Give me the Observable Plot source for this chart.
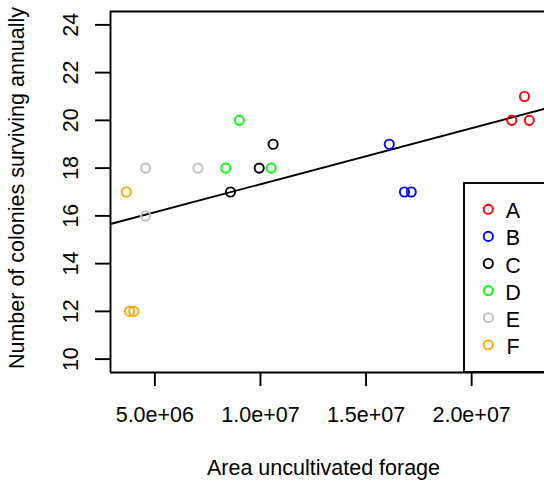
<!DOCTYPE html>
<html>
<head>
<meta charset="utf-8">
<script src="https://cdn.jsdelivr.net/npm/d3@7"></script>
<script src="https://cdn.jsdelivr.net/npm/@observablehq/plot@0.6"></script>
<style>
  html, body { margin: 0; padding: 0; background: #fff; overflow: hidden; }
  #chart svg { font-family: "Liberation Sans", Arial, Helvetica, sans-serif; }
</style>
</head>
<body>
<div id="chart"></div>
<script>
// ---- data ----
const categories = ["A", "B", "C", "D", "E", "F"];
const categoryColors = ["#FF0000", "#0000FF", "#000000", "#00FF00", "#BEBEBE", "#FFA500"];

const group = ["A", "A", "A", "B", "B", "B", "C", "C", "C", "D", "D", "D", "E", "E", "E", "F", "F", "F"];
const area = [22.5e6, 21.9e6, 22.73e6, 16.1e6, 16.82e6, 17.14e6, 8.58e6, 9.94e6, 10.6e6,
              9.0e6, 8.36e6, 10.51e6, 4.56e6, 7.04e6, 4.56e6, 3.65e6, 3.8e6, 4.0e6];
const colonies = [21, 20, 20, 19, 17, 17, 17, 18, 19, 20, 18, 18, 18, 18, 16, 17, 12, 12];

const xTicks = [5e6, 1e7, 1.5e7, 2e7];
const xTickLabels = ["5.0e+06", "1.0e+07", "1.5e+07", "2.0e+07"];
const yTicks = [10, 12, 14, 16, 18, 20, 22, 24];

const xLabel = "Area uncultivated forage";
const yLabel = "Number of colonies surviving annually";

// ---- derived ----
const data = group.map((g, i) => ({group: g, area: area[i], colonies: colonies[i]}));
const mx = d3.mean(area), my = d3.mean(colonies);
const slope = d3.sum(area, (x, i) => (x - mx) * (colonies[i] - my)) / d3.sum(area, x => (x - mx) ** 2);
const intercept = my - slope * mx;

const xDomain = [2.9e6, 23.45e6];
const yDomain = [9.44, 24.56];
const fit = xDomain.map(x => ({area: x, colonies: intercept + slope * x}));

const W = 544, H = 487;
const mL = 110, mR = 0, mT = 11, mB = 115;
const FS = 21.5;
const LW = 1.9;

const chart = Plot.plot({
  width: W, height: H,
  marginLeft: mL, marginRight: mR, marginTop: mT, marginBottom: mB,
  style: {fontFamily: '"Liberation Sans", Arial, sans-serif', fontSize: FS + "px", color: "#000", background: "#fff", overflow: "hidden"},
  x: {domain: xDomain},
  y: {domain: yDomain},
  color: {domain: categories, range: categoryColors},
  marks: [
    Plot.ruleY([yDomain[1], yDomain[0]], {stroke: "#000", strokeWidth: LW}),
    Plot.ruleX([xDomain[0]], {stroke: "#000", strokeWidth: LW}),
    Plot.axisX({ticks: xTicks, tickFormat: d => xTickLabels[xTicks.indexOf(d)], tickSize: 14, tickPadding: 20,
                fontSize: FS, strokeWidth: LW, label: null, fontVariant: "normal"}),
    Plot.axisY({ticks: yTicks, tickSize: 15, tickPadding: 18, tickRotate: -90,
                fontSize: FS, strokeWidth: LW, label: null, fontVariant: "normal"}),
    Plot.text([xLabel], {frameAnchor: "bottom", dy: 102, dx: -4, lineAnchor: "bottom", textAnchor: "middle", fontSize: FS}),
    Plot.text([yLabel], {frameAnchor: "left", dx: -87, dy: -4, rotate: -90, lineAnchor: "bottom", textAnchor: "middle", fontSize: FS}),
    Plot.line(fit, {x: "area", y: "colonies", stroke: "#000", strokeWidth: LW}),
    Plot.dot(data, {x: "area", y: "colonies", stroke: "group", r: 4.6, strokeWidth: 1.9})
  ]
});

// ---- legend (bottom-right of the plotting region, like R's legend("bottomright")) ----
const svg = d3.select(chart);
const frameRight = W - mR + 1, frameBottom = H - mB;
const boxLeft = 464, boxTop = 183;
const lg = svg.append("g");
lg.append("rect")
  .attr("x", boxLeft).attr("y", boxTop)
  .attr("width", frameRight + 20 - boxLeft).attr("height", frameBottom - boxTop)
  .attr("fill", "#fff").attr("stroke", "#000").attr("stroke-width", LW);
const step = 27.1, firstY = 209.3;
categories.forEach((c, i) => {
  const cy = firstY + i * step;
  lg.append("circle").attr("cx", 488.3).attr("cy", cy).attr("r", 4.6)
    .attr("fill", "none").attr("stroke", categoryColors[i]).attr("stroke-width", 1.9);
  lg.append("text").attr("x", 513).attr("y", cy + 9)
    .attr("font-size", FS).attr("fill", "#000").text(c);
});

document.getElementById("chart").appendChild(chart);
</script>
</body>
</html>
